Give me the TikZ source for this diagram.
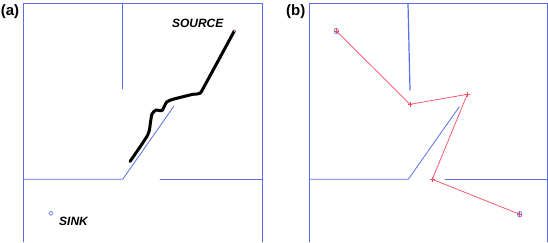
\documentclass[tikz,border=0pt]{standalone}
\usepackage{fontspec}
\setsansfont{Liberation Sans}
\usepackage{tikz}
\usepackage{tkz-euclide}
\usetikzlibrary{shapes.geometric}
\definecolor{wallblue}{RGB}{88,110,235}
\definecolor{routered}{RGB}{245,75,95}
\tikzset{
  wall/.style={color=wallblue,line width=0.8pt},
  trail/.style={line width=3pt,line cap=round,line join=round},
  route/.style={color=routered,line width=0.7pt},
  panellabel/.style={font=\sffamily\bfseries\fontsize{15}{15}\selectfont,inner sep=0pt},
  sitelabel/.style={font=\sffamily\bfseries\itshape\fontsize{12}{12}\selectfont,inner sep=0pt}
}

\begin{document}
\begin{tikzpicture}[x=1pt,y=-1pt]
  \useasboundingbox (0,0) rectangle (548,242);
  % panel (a)
  \tkzDefPoint(23.5,242){A0}
  \tkzDefPoint(23.5,3.5){A1}
  \tkzDefPoint(262,3.5){A2}
  \tkzDefPoint(262,242){A3}
  \tkzDefPoint(122.7,3.5){W1}
  \tkzDefPoint(122.7,89){W2}
  \tkzDefPoint(23.5,179.3){W3}
  \tkzDefPoint(122.7,179.3){W4}
  \tkzDefPoint(174,106){W5}
  \tkzDefPoint(160,179.3){W6}
  \tkzDefPoint(262,179.3){W7}
  \tkzDrawPolySeg[wall](A0,A1,A2,A3)
  \tkzDrawSegment[wall](W1,W2)
  \tkzDrawPolySeg[wall](W3,W4,W5)
  \tkzDrawSegment[wall](W6,W7)
  \draw[trail] plot[smooth,tension=0.4] coordinates {(130,161.5) (147.7,135) (150.5,122)
    (152,114) (156,110) (162,110.5) (166.7,102) (173,99.3) (183,96.7) (193,94.3)
    (200,93.3) (205,85) (234.3,31)};
  \fill[magenta!50] (234.3,31) circle (1pt);
  \node[sitelabel] (source) at (197.7,23.5) {SOURCE};
  \node[draw=wallblue,diamond,inner sep=0pt,minimum size=4.5pt,line width=0.5pt] (sink) at (51,213.3) {};
  \node[sitelabel] (sinklabel) at (73.5,221.7) {SINK};
  \node[panellabel] (labA) at (10,12) {(a)};
  % panel (b)
  \tkzDefPoint(309,242){B0}
  \tkzDefPoint(309,3.5){B1}
  \tkzDefPoint(547.3,3.5){B2}
  \tkzDefPoint(547.3,242){B3}
  \tkzDefPoint(408,3.5){V1}
  \tkzDefPoint(410,90){V2}
  \tkzDefPoint(309,179.3){V3}
  \tkzDefPoint(408.3,179.3){V4}
  \tkzDefPoint(459.3,106.7){V5}
  \tkzDefPoint(445,179.3){V6}
  \tkzDefPoint(547.3,179.3){V7}
  \tkzDrawPolySeg[wall](B0,B1,B2,B3)
  \tkzDrawSegment[wall,line width=1.2pt](V1,V2)
  \tkzDrawPolySeg[wall](V3,V4,V5)
  \tkzDrawSegment[wall](V6,V7)
  \tkzDefPoint(336.3,31){R1}
  \tkzDefPoint(410,104.3){R2}
  \tkzDefPoint(467.3,94.3){R3}
  \tkzDefPoint(432.3,179.3){R4}
  \tkzDefPoint(519.7,214.3){R5}
  \tkzDrawPolySeg[route](R1,R2,R3,R4,R5)
  \foreach \p in {R1,R5}
    \draw[wallblue,line width=0.6pt] (\p) ellipse (2.2pt and 2.8pt);
  \foreach \p in {R1,R2,R3,R4,R5}
    \draw[routered,line width=0.9pt] ([xshift=-2.2pt]\p) -- ([xshift=2.2pt]\p)
      ([yshift=-2.2pt]\p) -- ([yshift=2.2pt]\p);
  \node[panellabel] (labB) at (295.7,12) {(b)};
\end{tikzpicture}
\end{document}
